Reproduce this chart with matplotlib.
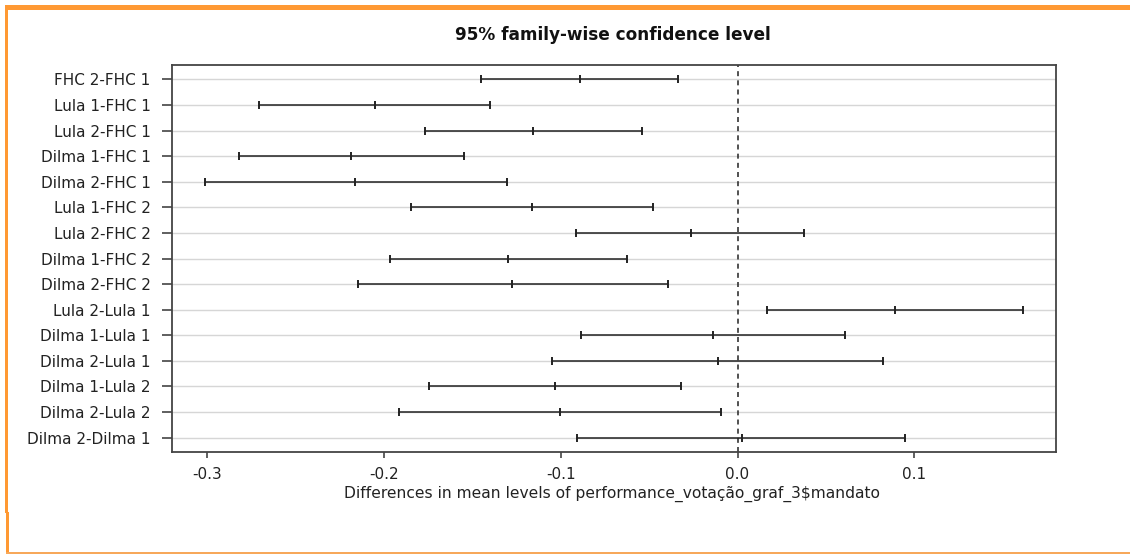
import matplotlib
matplotlib.use("Agg")
import matplotlib.pyplot as plt
from matplotlib.patches import Rectangle
import numpy as np

# Tukey HSD comparisons of mean performance by presidential term
comparisons = [
    "FHC 2-FHC 1", "Lula 1-FHC 1", "Lula 2-FHC 1", "Dilma 1-FHC 1",
    "Dilma 2-FHC 1", "Lula 1-FHC 2", "Lula 2-FHC 2", "Dilma 1-FHC 2",
    "Dilma 2-FHC 2", "Lula 2-Lula 1", "Dilma 1-Lula 1", "Dilma 2-Lula 1",
    "Dilma 1-Lula 2", "Dilma 2-Lula 2", "Dilma 2-Dilma 1",
]
diff = [-0.0889, -0.2053, -0.1156, -0.2190, -0.2166, -0.1162, -0.0266, -0.1300,
        -0.1275, 0.0889, -0.0138, -0.0111, -0.1034, -0.1007, 0.0023]
lwr = [-0.1450, -0.2709, -0.1771, -0.2822, -0.3015, -0.1845, -0.0913, -0.1964,
       -0.2149, 0.0168, -0.0883, -0.1049, -0.1747, -0.1917, -0.0907]
upr = [-0.0334, -0.1402, -0.0543, -0.1549, -0.1307, -0.0481, 0.0377, -0.0624,
       -0.0392, 0.1617, 0.0611, 0.0825, -0.0321, -0.0096, 0.0945]
xticks = [-0.3, -0.2, -0.1, 0.0, 0.1]
xtick_labels = ["-0.3", "-0.2", "-0.1", "0.0", "0.1"]

title = "95% family-wise confidence level"
xlabel = "Differences in mean levels of performance_votação_graf_3$mandato"

W, H = 1130, 554
fig = plt.figure(figsize=(W / 100, H / 100), dpi=100)
fig.patch.set_facecolor("white")

# orange frame around the figure
orange = "#FF9933"
def px_rect(x0, y0, x1, y1, color):
    fig.patches.append(Rectangle((x0 / W, 1 - y1 / H), (x1 - x0) / W, (y1 - y0) / H,
                                 transform=fig.transFigure, color=color, lw=0, zorder=0))
px_rect(5, 5, W, 10, orange)
px_rect(5, 5, 8, 513, orange)
px_rect(6, 512, 9, 553, orange)
px_rect(6, 552, W, 554, "#F7A85A")

ax = fig.add_axes([172 / W, 1 - 452 / H, (1056 - 172) / W, (452 - 65) / H])

n = len(comparisons)
ypos = np.arange(1, n + 1)
diff_a, lwr_a, upr_a = np.array(diff), np.array(lwr), np.array(upr)

# light horizontal guide lines at each comparison
for y in ypos:
    ax.axhline(y, color="#d6d6d6", lw=1.0, zorder=1)

ink = "#222222"
ax.errorbar(diff_a, ypos, xerr=[diff_a - lwr_a, upr_a - diff_a], fmt="|",
            color=ink, ecolor=ink, elinewidth=1.1, markersize=6, mew=1.4,
            capsize=2.6, capthick=1.4, zorder=3)

ax.axvline(0, color="#333333", lw=1.2, ls=(0, (3, 2.5)), zorder=2)

# R-style 4% range extension
lo, hi = lwr_a.min(), upr_a.max()
pad = 0.04 * (hi - lo)
ax.set_xlim(lo - pad, hi + pad)
ax.set_ylim(n + 0.56, 1 - 0.56)

ax.set_yticks(ypos)
ax.set_yticklabels(comparisons)
ax.set_xticks(xticks)
ax.set_xticklabels(xtick_labels)

for s in ax.spines.values():
    s.set_color("#444444")
    s.set_linewidth(1.3)

ax.tick_params(axis="y", length=7.5, width=1.2, color="#444444", pad=8,
               labelsize=11, labelcolor=ink)
ax.tick_params(axis="x", length=4.5, width=1.2, color="#444444", pad=6,
               labelsize=11, labelcolor=ink)

fig.text(613 / W, 1 - 35 / H, title, ha="center", va="center",
         fontsize=12.2, fontweight="bold", color="#111111")
fig.text(612 / W, 1 - 494 / H, xlabel, ha="center", va="center",
         fontsize=11.2, color=ink)

fig.savefig("out.png", dpi=100, facecolor="white")
